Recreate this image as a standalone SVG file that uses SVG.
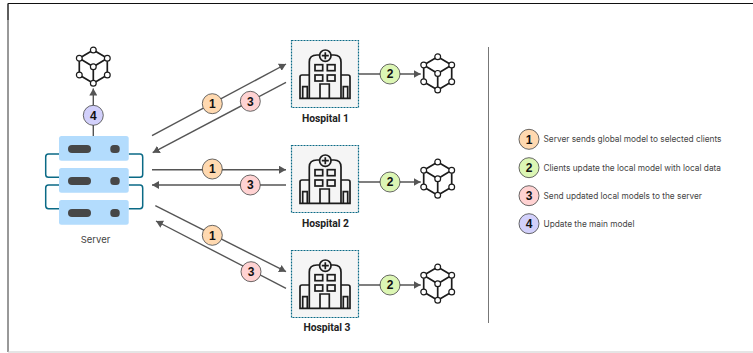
<svg xmlns="http://www.w3.org/2000/svg" width="753" height="353" viewBox="0 0 753 353">
<style>
.edge{fill:none;stroke:#555;stroke-width:1.4}
.badge{stroke:#444;stroke-width:.8}
.b1{fill:#ffd9b0}.b2{fill:#dcf6b4}.b3{fill:#ffd2d2}.b4{fill:#d2d0fb}
.n{font:700 12px "Liberation Sans",Arial,sans-serif;text-anchor:middle;fill:#111}
.leg{font:400 8.3px "Inter",Arial,sans-serif;fill:#444}
.hl{font:700 10.3px "Roboto",Arial,sans-serif;text-anchor:middle;fill:#222}
.ic{fill:none;stroke:#1c1c1c;stroke-width:1.7}
.mod{fill:none;stroke:#1c1c1c;stroke-width:1.7}
.mn{fill:#fff;stroke:#1c1c1c;stroke-width:1.2}
.link{fill:none;stroke:#0b6a86;stroke-width:1.5}
</style>
<defs>
<marker id="a" markerUnits="userSpaceOnUse" markerWidth="8" markerHeight="8" refX="7" refY="4" orient="auto"><path d="M0 0L7 4L0 8Z" fill="#555"/></marker>
<symbol id="hosp" width="68" height="68" viewBox="0 0 68 68" overflow="visible">
<rect x=".5" y=".5" width="67" height="67" fill="#f5f5f5" stroke="#0b6a86" stroke-width="1.2" stroke-dasharray="2 1"/>
<path class="ic" d="M18.3 58.3V22Q18.3 15 26 15H43Q50 15 50 22V58.3"/>
<circle class="ic" style="fill:#f5f5f5" cx="34.3" cy="15.7" r="5.7"/>
<path class="ic" d="M34.3 12.2V19.2M30.8 15.7H37.8"/>
<path class="ic" d="M18.3 35H11Q9 35 9 37V58.3H59V37Q59 35 57 35H50"/>
<rect class="ic" x="24" y="24.7" width="7.7" height="6"/><rect class="ic" x="36.3" y="24.7" width="7.7" height="6"/>
<rect class="ic" x="24" y="35" width="7.7" height="6"/><rect class="ic" x="36.3" y="35" width="7.7" height="6"/>
<path class="ic" d="M29 58.3V44H38.3V58.3M11.7 58.3V46.7H16.3V58.3M52.3 58.3V46.7H56.7V58.3"/>
</symbol>
<symbol id="model" width="40" height="44" viewBox="0 0 40 44" overflow="visible">
<path class="mod" d="M20 4L34 12.3V29L20 37.3L6 29V12.3ZM6 12.3L20 20.7L34 12.3M20 20.7V37.3"/>
<circle class="mn" cx="20" cy="4" r="2.9"/><circle class="mn" cx="6" cy="12.3" r="2.9"/><circle class="mn" cx="34" cy="12.3" r="2.9"/><circle class="mn" cx="20" cy="20.7" r="2.9"/><circle class="mn" cx="6" cy="29" r="2.9"/><circle class="mn" cx="34" cy="29" r="2.9"/><circle class="mn" cx="20" cy="37.3" r="2.9"/>
</symbol>
</defs>
<rect width="753" height="353" fill="#fff"/>
<path d="M8 20V3.5H753" fill="none" stroke="#111" stroke-width="1"/>
<path d="M8 3.5V352" fill="none" stroke="#333" stroke-width="1"/>
<path d="M8 352H753" fill="none" stroke="#ccc" stroke-width="1.2"/>
<path d="M488.5 47V323" stroke="#777" stroke-width="1"/>

<g id="connectors">
<path class="edge" d="M93.3 136V88.5" marker-end="url(#a)"/>
<path class="edge" d="M152 135.7L286 64" marker-end="url(#a)"/>
<path class="edge" d="M286 82.3L152.7 152.7" marker-end="url(#a)"/>
<path class="edge" d="M152 169.7H286" marker-end="url(#a)"/>
<path class="edge" d="M286 185H152" marker-end="url(#a)"/>
<path class="edge" d="M155.3 205.7L286 271.7" marker-end="url(#a)"/>
<path class="edge" d="M286 288.3L156 221" marker-end="url(#a)"/>
<path class="edge" d="M358.7 74H420.7" marker-end="url(#a)"/>
<path class="edge" d="M358.7 182H420.7" marker-end="url(#a)"/>
<path class="edge" d="M358.7 285H420.7" marker-end="url(#a)"/>
</g>

<g id="server">
<path class="link" d="M59 154H48.5Q45.7 154 45.7 157V174.5Q45.7 177.3 48.5 177.3H59M128.7 154H140Q142.7 154 142.7 157V174.5Q142.7 177.3 140 177.3H128.7M59 185H48.5Q45.7 185 45.7 188V205.8Q45.7 208.7 48.5 208.7H59M128.7 185H140Q142.7 185 142.7 188V205.8Q142.7 208.7 140 208.7H128.7"/>
<g fill="#b3dcfd"><rect x="59" y="136" width="69.7" height="24.7" rx="2.5"/><rect x="59" y="168" width="69.7" height="24.7" rx="2.5"/><rect x="59" y="200" width="69.7" height="24.7" rx="2.5"/></g>
<g fill="#474747"><rect x="68" y="145" width="23" height="8" rx="4"/><rect x="68" y="177" width="23" height="8" rx="4"/><rect x="68" y="209" width="23" height="8" rx="4"/>
<rect x="110.3" y="145" width="9.4" height="8" rx="3.5"/><rect x="110.3" y="177" width="9.4" height="8" rx="3.5"/><rect x="110.3" y="209" width="9.4" height="8" rx="3.5"/></g>
<text x="95.5" y="242.5" font-family="Inter,Arial,sans-serif" font-size="9.5" fill="#444" text-anchor="middle">Server</text>
</g>
<g id="model-main"><use href="#model" x="73.3" y="46"/></g>

<g id="hospital-1"><use href="#hosp" x="291" y="40"/><text class="hl" x="325.5" y="122">Hospital 1</text></g>
<g id="hospital-2"><use href="#hosp" x="291" y="145"/><text class="hl" x="325.5" y="227">Hospital 2</text></g>
<g id="hospital-3"><use href="#hosp" x="291" y="250"/><text class="hl" x="327" y="331">Hospital 3</text></g>
<g id="model-1"><use href="#model" x="417.7" y="52.7"/></g>
<g id="model-2"><use href="#model" x="417.7" y="158"/></g>
<g id="model-3"><use href="#model" x="417.7" y="263"/></g>

<g id="badges">
<circle class="badge b4" cx="93.3" cy="115.3" r="10"/><text class="n" x="93.3" y="119.6">4</text>
<circle class="badge b1" cx="212.3" cy="103.7" r="10"/><text class="n" x="212.3" y="108">1</text>
<circle class="badge b3" cx="250.3" cy="101.3" r="10"/><text class="n" x="250.3" y="105.6">3</text>
<circle class="badge b1" cx="212.3" cy="169" r="10"/><text class="n" x="212.3" y="173.3">1</text>
<circle class="badge b3" cx="250.3" cy="185" r="10"/><text class="n" x="250.3" y="189.3">3</text>
<circle class="badge b1" cx="212.3" cy="235.3" r="10"/><text class="n" x="212.3" y="239.6">1</text>
<circle class="badge b3" cx="251" cy="271.7" r="10"/><text class="n" x="251" y="276">3</text>
<circle class="badge b2" cx="390" cy="74" r="10"/><text class="n" x="390" y="78.3">2</text>
<circle class="badge b2" cx="390" cy="182" r="10"/><text class="n" x="390" y="186.3">2</text>
<circle class="badge b2" cx="390" cy="285" r="10"/><text class="n" x="390" y="289.3">2</text>
</g>

<g id="legend">
<circle class="badge b1" cx="529" cy="139.3" r="10"/><text class="n" x="529" y="143.6">1</text><text class="leg" x="543.5" y="142">Server sends global model to selected clients</text>
<circle class="badge b2" cx="529" cy="167.7" r="10"/><text class="n" x="529" y="172">2</text><text class="leg" x="543.5" y="170.5">Clients update the local model with local data</text>
<circle class="badge b3" cx="529" cy="195.7" r="10"/><text class="n" x="529" y="200">3</text><text class="leg" x="543.5" y="198.5">Send updated local models to the server</text>
<circle class="badge b4" cx="529" cy="223.7" r="10"/><text class="n" x="529" y="228">4</text><text class="leg" x="543.5" y="226.5">Update the main model</text>
</g>
</svg>
